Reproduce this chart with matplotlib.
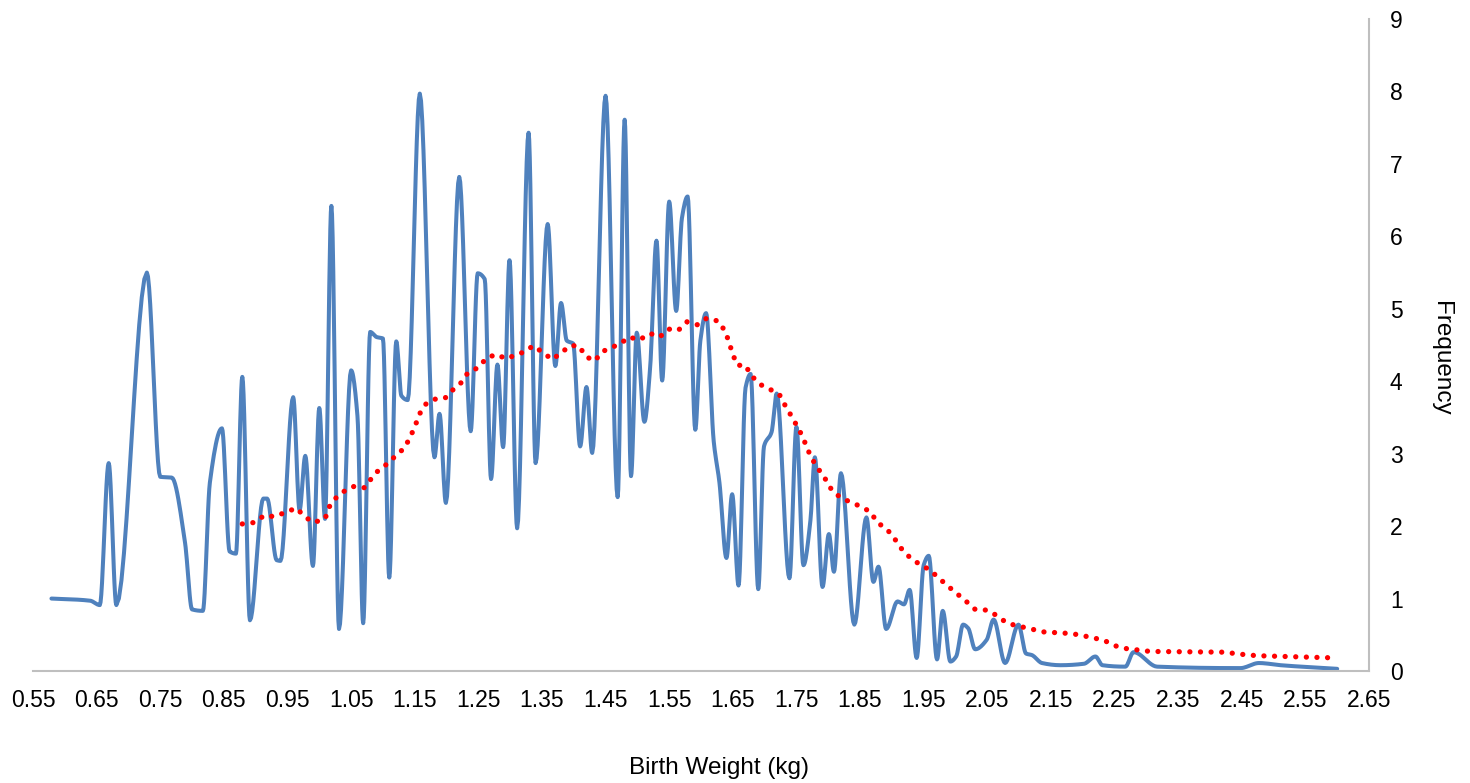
"""Birth weight frequency curve with moving-average trendline."""
import matplotlib
matplotlib.use("Agg")
import matplotlib.pyplot as plt
import numpy as np

plt.rcParams["font.family"] = ["Liberation Sans", "DejaVu Sans"]

# blue series: frequency by birth weight
weight_kg = [
    0.579, 0.640, 0.655, 0.669, 0.681, 0.729, 0.750, 0.768, 0.789, 0.800,
    0.817, 0.828, 0.847, 0.859, 0.869, 0.879, 0.891, 0.912, 0.918, 0.933,
    0.939, 0.959, 0.969, 0.978, 0.990, 1.000, 1.009, 1.019, 1.031, 1.050,
    1.060, 1.069, 1.080, 1.090, 1.100, 1.110, 1.121, 1.129, 1.139, 1.158,
    1.181, 1.189, 1.199, 1.220, 1.238, 1.249, 1.260, 1.270, 1.280, 1.289,
    1.299, 1.311, 1.329, 1.340, 1.359, 1.371, 1.380, 1.389, 1.399, 1.410,
    1.420, 1.429, 1.450, 1.469, 1.480, 1.490, 1.499, 1.511, 1.520, 1.530,
    1.539, 1.550, 1.561, 1.570, 1.579, 1.591, 1.599, 1.608, 1.620, 1.629,
    1.640, 1.649, 1.659, 1.670, 1.678, 1.690, 1.699, 1.711, 1.719, 1.739,
    1.750, 1.761, 1.772, 1.779, 1.791, 1.801, 1.809, 1.820, 1.841, 1.860,
    1.871, 1.879, 1.891, 1.909, 1.919, 1.928, 1.939, 1.950, 1.958, 1.971,
    1.980, 1.992, 2.001, 2.012, 2.020, 2.031, 2.049, 2.060, 2.078, 2.099,
    2.111, 2.120, 2.136, 2.165, 2.202, 2.220, 2.231, 2.267, 2.280, 2.317,
    2.448, 2.477, 2.511, 2.600,
]
frequency = [
    1.00, 0.97, 0.91, 2.87, 0.91, 5.50, 2.68, 2.67, 1.77, 0.85,
    0.83, 2.60, 3.35, 1.65, 1.62, 4.06, 0.70, 2.38, 2.38, 1.53,
    1.52, 3.78, 2.22, 2.97, 1.45, 3.63, 2.10, 6.42, 0.58, 4.15,
    3.52, 0.66, 4.68, 4.61, 4.59, 1.29, 4.55, 3.80, 3.74, 7.97,
    2.95, 3.55, 2.32, 6.82, 3.31, 5.49, 5.41, 2.65, 4.23, 3.09,
    5.67, 1.97, 7.43, 2.87, 6.17, 4.21, 5.08, 4.56, 4.52, 3.10,
    3.92, 3.01, 7.94, 2.40, 7.61, 2.69, 4.67, 3.44, 4.18, 5.94,
    4.01, 6.48, 4.97, 6.25, 6.55, 3.33, 4.56, 4.94, 3.17, 2.60,
    1.56, 2.44, 1.18, 3.91, 4.10, 1.13, 3.10, 3.30, 3.83, 1.28,
    3.37, 1.46, 2.08, 2.95, 1.16, 1.89, 1.37, 2.73, 0.64, 2.12,
    1.23, 1.44, 0.58, 0.96, 0.92, 1.12, 0.18, 1.46, 1.59, 0.16,
    0.83, 0.13, 0.20, 0.64, 0.59, 0.30, 0.43, 0.71, 0.11, 0.64,
    0.24, 0.22, 0.11, 0.08, 0.10, 0.20, 0.08, 0.06, 0.26, 0.06,
    0.04, 0.11, 0.08, 0.03,
]

# red series: moving-average trendline
trend_kg = [
    0.879, 0.898, 0.914, 0.929, 0.947, 0.964, 0.977, 0.991, 1.009, 1.016,
    1.025, 1.039, 1.055, 1.071, 1.083, 1.094, 1.107, 1.120, 1.134, 1.143,
    1.151, 1.157, 1.168, 1.184, 1.198, 1.210, 1.223, 1.233, 1.250, 1.263,
    1.278, 1.294, 1.311, 1.324, 1.336, 1.351, 1.366, 1.380, 1.394, 1.408,
    1.419, 1.433, 1.445, 1.461, 1.475, 1.487, 1.503, 1.520, 1.535, 1.549,
    1.564, 1.578, 1.594, 1.609, 1.627, 1.638, 1.644, 1.650, 1.657, 1.670,
    1.678, 1.692, 1.708, 1.723, 1.732, 1.742, 1.751, 1.760, 1.767, 1.775,
    1.786, 1.797, 1.806, 1.820, 1.838, 1.854, 1.867, 1.877, 1.892, 1.904,
    1.915, 1.928, 1.944, 1.959, 1.973, 1.987, 2.002, 2.017, 2.031, 2.050,
    2.066, 2.081, 2.099, 2.119, 2.138, 2.157, 2.176, 2.195, 2.214, 2.232,
    2.250, 2.268, 2.287, 2.306, 2.421, 2.441, 2.460, 2.479, 2.600,
]
trend_freq = [
    2.03, 2.05, 2.15, 2.13, 2.19, 2.25, 2.13, 2.05, 2.10, 2.27,
    2.38, 2.48, 2.55, 2.53, 2.67, 2.78, 2.86, 2.97, 3.08, 3.23,
    3.39, 3.54, 3.69, 3.76, 3.77, 3.88, 3.98, 4.11, 4.19, 4.32,
    4.37, 4.31, 4.37, 4.41, 4.49, 4.40, 4.30, 4.39, 4.49, 4.49,
    4.34, 4.28, 4.41, 4.47, 4.53, 4.61, 4.57, 4.66, 4.61, 4.72,
    4.70, 4.82, 4.78, 4.87, 4.83, 4.69, 4.54, 4.37, 4.22, 4.22,
    4.09, 3.96, 3.89, 3.82, 3.67, 3.52, 3.38, 3.23, 3.07, 2.92,
    2.77, 2.63, 2.49, 2.39, 2.32, 2.26, 2.19, 2.05, 1.96, 1.83,
    1.69, 1.57, 1.47, 1.40, 1.29, 1.18, 1.07, 0.96, 0.85, 0.84,
    0.76, 0.66, 0.62, 0.58, 0.54, 0.53, 0.52, 0.50, 0.46, 0.43,
    0.35, 0.31, 0.29, 0.27, 0.26, 0.24, 0.22, 0.21, 0.18,
]

x_ticks = [round(0.55 + 0.1 * i, 2) for i in range(22)]
y_ticks = list(range(10))


def smooth_curve(x, y, samples=12):
    """Monotone cubic (PCHIP) through the points, like a smoothed line chart."""
    x = np.asarray(x, dtype=float)
    y = np.asarray(y, dtype=float)
    h = np.diff(x)
    delta = np.diff(y) / h
    d = np.zeros_like(y)
    for k in range(1, len(y) - 1):
        if delta[k - 1] * delta[k] > 0:
            w1 = 2 * h[k] + h[k - 1]
            w2 = h[k] + 2 * h[k - 1]
            d[k] = (w1 + w2) / (w1 / delta[k - 1] + w2 / delta[k])
    d[0] = delta[0]
    d[-1] = delta[-1]
    xs, ys = [], []
    for k in range(len(x) - 1):
        t = np.linspace(0, 1, samples, endpoint=False)
        h00 = 2 * t**3 - 3 * t**2 + 1
        h10 = t**3 - 2 * t**2 + t
        h01 = -2 * t**3 + 3 * t**2
        h11 = t**3 - t**2
        xs.append(x[k] + t * h[k])
        ys.append(h00 * y[k] + h10 * h[k] * d[k] + h01 * y[k + 1] + h11 * h[k] * d[k + 1])
    xs.append([x[-1]])
    ys.append([y[-1]])
    return np.concatenate(xs), np.concatenate(ys)


fig = plt.figure(figsize=(14.7, 7.83), dpi=100)
ax = fig.add_axes([33 / 1470, 112 / 783, 1336 / 1470, 652 / 783])

sx, sy = smooth_curve(weight_kg, frequency)
ax.plot(sx, sy, color="#4F81BD", linewidth=2.9, solid_joinstyle="round",
        solid_capstyle="round", zorder=2)
ax.plot(trend_kg, trend_freq, color="#FF0000", linewidth=3.8,
        linestyle=(0, (0.01, 2.0)), dash_capstyle="round", zorder=3)

ax.set_xlim(0.55, 2.65)
ax.set_ylim(0, 9)
ax.set_xticks(x_ticks)
ax.set_xticklabels([f"{v:.2f}" for v in x_ticks])
ax.set_yticks(y_ticks)
ax.yaxis.tick_right()
ax.tick_params(axis="x", length=0, pad=13, labelsize=16.5, colors="black")
ax.tick_params(axis="y", length=0, pad=15, labelsize=16.5, colors="black")

for side in ("top", "left"):
    ax.spines[side].set_visible(False)
for side in ("bottom", "right"):
    ax.spines[side].set_color("#BFBFBF")
    ax.spines[side].set_linewidth(1.5)

fig.text(719 / 1470, 1 - 768 / 783, "Birth Weight (kg)", ha="center", va="center",
         fontsize=17.5)
fig.text(1441 / 1470, 1 - 358 / 783, "Frequency", ha="center", va="center",
         rotation=270, fontsize=17.5)

fig.savefig("out.png", dpi=100)
